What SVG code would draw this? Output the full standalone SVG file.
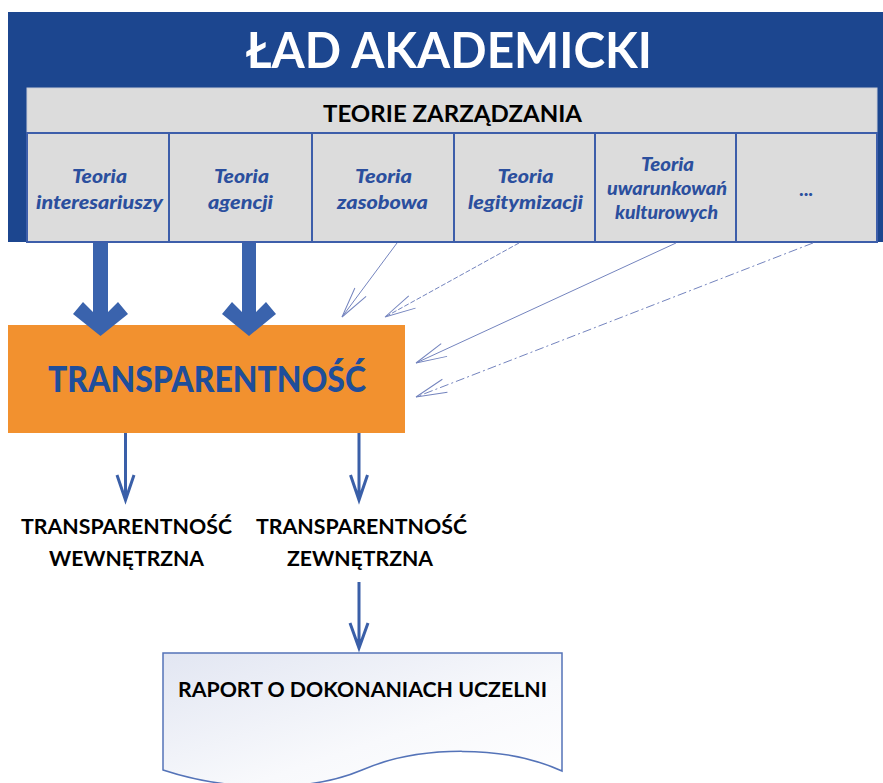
<svg xmlns="http://www.w3.org/2000/svg" width="883" height="783" viewBox="0 0 883 783">
<style>
.f{font-family:Lato,"Open Sans","Liberation Sans",sans-serif;font-weight:bold}
.cell{font-family:Lato,"Open Sans","Liberation Sans",sans-serif;font-weight:900;font-style:italic;font-size:19.5px;fill:#2B4F9E;text-anchor:middle}
.lbl{font-size:21px;fill:#000;text-anchor:middle}
.thin{stroke:#7484BE;stroke-width:1;fill:none}
.big{fill:#3A63AD}
.sm{stroke:#3A5FA8;stroke-width:3;fill:none}
.cb{fill:#DCDCDC;stroke:#3D5EAA;stroke-width:2}
</style>
<defs>
<marker id="open" markerUnits="userSpaceOnUse" orient="auto" viewBox="-33 -9 35 18" refX="0" refY="0" markerWidth="35" markerHeight="18" overflow="visible">
<path d="M-31,-7 L0,0 L-31,7" fill="none" stroke="#7484BE" stroke-width="1"/>
</marker>
<linearGradient id="doc" x1="0" y1="0" x2="1" y2="1">
<stop offset="0" stop-color="#E2E6F2"/>
<stop offset="0.6" stop-color="#F8F9FC"/>
<stop offset="1" stop-color="#FFFFFF"/>
</linearGradient>
</defs>
<rect width="883" height="783" fill="#FFFFFF"/>

<g id="lad-akademicki">
<rect x="8" y="12" width="875" height="230" fill="#1C468F"/>
<text class="f" x="449" y="68" font-size="49" fill="#FFFFFF" text-anchor="middle" textLength="406" lengthAdjust="spacingAndGlyphs">ŁAD AKADEMICKI</text>
</g>

<g id="teorie-zarzadzania">
<rect x="27" y="88" width="850" height="45" fill="#DCDCDC" stroke="#C8CCD8" stroke-width="1"/>
<text class="f" x="452.5" y="122" font-size="22" fill="#000" text-anchor="middle" textLength="259" lengthAdjust="spacingAndGlyphs">TEORIE ZARZĄDZANIA</text>
</g>

<g id="cell-interesariuszy">
<rect class="cb" x="27" y="133" width="142" height="109"/>
<text class="cell" x="99.5" y="183" textLength="55" lengthAdjust="spacingAndGlyphs">Teoria</text>
<text class="cell" x="99.5" y="209" textLength="127" lengthAdjust="spacingAndGlyphs">interesariuszy</text>
</g>
<g id="cell-agencji">
<rect class="cb" x="169" y="133" width="143" height="109"/>
<text class="cell" x="241.5" y="183" textLength="55" lengthAdjust="spacingAndGlyphs">Teoria</text>
<text class="cell" x="240.5" y="209" textLength="65" lengthAdjust="spacingAndGlyphs">agencji</text>
</g>
<g id="cell-zasobowa">
<rect class="cb" x="312" y="133" width="142" height="109"/>
<text class="cell" x="383.5" y="183" textLength="57" lengthAdjust="spacingAndGlyphs">Teoria</text>
<text class="cell" x="382.5" y="209" textLength="91" lengthAdjust="spacingAndGlyphs">zasobowa</text>
</g>
<g id="cell-legitymizacji">
<rect class="cb" x="454" y="133" width="141" height="109"/>
<text class="cell" x="525.5" y="183" textLength="56" lengthAdjust="spacingAndGlyphs">Teoria</text>
<text class="cell" x="525.5" y="209" textLength="115" lengthAdjust="spacingAndGlyphs">legitymizacji</text>
</g>
<g id="cell-kulturowych">
<rect class="cb" x="595" y="133" width="141" height="109"/>
<text class="cell" x="667.5" y="171" font-size="18.5" textLength="53" lengthAdjust="spacingAndGlyphs">Teoria</text>
<text class="cell" x="667" y="195" font-size="18.5" textLength="120" lengthAdjust="spacingAndGlyphs">uwarunkowań</text>
<text class="cell" x="666.5" y="219" font-size="18.5" textLength="103" lengthAdjust="spacingAndGlyphs">kulturowych</text>
</g>
<g id="cell-more">
<rect class="cb" x="736" y="133" width="141" height="109"/>
<text class="cell" x="806.5" y="196">...</text>
</g>

<g id="transparentnosc">
<rect x="8" y="325" width="397" height="108" fill="#F2912F"/>
<text x="207" y="392" font-family="Lato,'Open Sans','Liberation Sans',sans-serif" font-weight="900" font-size="36" fill="#1F4E9A" text-anchor="middle" textLength="318" lengthAdjust="spacingAndGlyphs">TRANSPARENTNOŚĆ</text>
</g>

<g id="transparentnosc-wewnetrzna">
<text class="f lbl" x="126.5" y="534" textLength="211" lengthAdjust="spacingAndGlyphs">TRANSPARENTNOŚĆ</text>
<text class="f lbl" x="126.5" y="566" textLength="155" lengthAdjust="spacingAndGlyphs">WEWNĘTRZNA</text>
</g>

<g id="transparentnosc-zewnetrzna">
<text class="f lbl" x="361.5" y="534" textLength="211" lengthAdjust="spacingAndGlyphs">TRANSPARENTNOŚĆ</text>
<text class="f lbl" x="360" y="566" textLength="146" lengthAdjust="spacingAndGlyphs">ZEWNĘTRZNA</text>
</g>

<g id="raport">
<path d="M163,653 L562,653 L562,771 C505,745 420,745 362,770 C310,792 230,792 163,770 Z" fill="url(#doc)" stroke="#5473B8" stroke-width="1.5"/>
<text class="f lbl" x="362.5" y="697" textLength="369" lengthAdjust="spacingAndGlyphs">RAPORT O DOKONANIACH UCZELNI</text>
</g>

<g id="connectors">
<polygon class="big" points="93,243 108,243 108,312 118,302 128,314 100.5,336 73,314 83,302 93,312"/>
<polygon class="big" points="242,243 256,243 256,312 266,302 276,314 249,336 222,314 232,302 242,312"/>
<line class="thin" x1="397" y1="243" x2="342" y2="317" marker-end="url(#open)"/>
<line class="thin" x1="519" y1="243" x2="385" y2="317" stroke-dasharray="5 2" marker-end="url(#open)"/>
<line class="thin" x1="676" y1="243" x2="416" y2="363" marker-end="url(#open)"/>
<line class="thin" x1="813" y1="243" x2="416" y2="397" stroke-dasharray="9 3 2 3" marker-end="url(#open)"/>
<path class="sm" d="M125.5,433 V500 M117,475 L125.5,500 L134,475"/>
<path class="sm" d="M359,433 V500 M350.5,475 L359,500 L367.5,475"/>
<path class="sm" d="M359,582 V648 M350,623 L359,648 L368,623"/>
</g>
</svg>
